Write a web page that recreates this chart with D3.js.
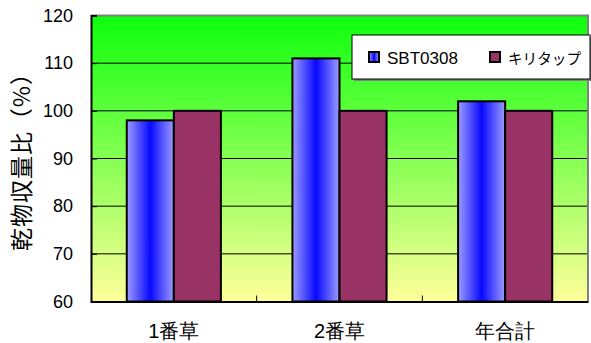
<!DOCTYPE html>
<html>
<head>
<meta charset="utf-8">
<script src="https://cdn.jsdelivr.net/npm/d3@7"></script>
<style>
  html, body { margin: 0; padding: 0; background: #fff; }
  svg { display: block; font-family: "Liberation Sans", Arial, "Noto Sans CJK JP", sans-serif; }
</style>
</head>
<body>
<svg id="chart" width="591" height="343"></svg>
<script>
// Dry matter yield ratio (%) by cutting, SBT0308 versus the standard キリタップ
const categories = ["1番草", "2番草", "年合計"];
const seriesNames = ["SBT0308", "キリタップ"];
const sbt0308 = [98, 111, 102];
const kiritap = [100, 100, 100];
const yTicks = [60, 70, 80, 90, 100, 110, 120];
const yTitle = "乾物収量比（%）";

const svg = d3.select("#chart");
const plot = { left: 91, right: 588, top: 15.5, bottom: 301.5 };

const x = d3.scaleBand().domain(categories).range([plot.left, plot.right]).padding(0);
const xSub = d3.scaleBand().domain(seriesNames).range([0, x.bandwidth()])
  .paddingInner(0).paddingOuter(0.76);
const y = d3.scaleLinear().domain([60, 120]).range([plot.bottom, plot.top]);

const defs = svg.append("defs");
const bg = defs.append("linearGradient").attr("id", "bgGrad")
  .attr("x1", 0).attr("y1", 0).attr("x2", 0).attr("y2", 1);
bg.append("stop").attr("offset", 0).attr("stop-color", "#0cff0c");
bg.append("stop").attr("offset", 1).attr("stop-color", "#ffff9a");

const blue = defs.append("linearGradient").attr("id", "blueGrad")
  .attr("x1", 0).attr("y1", 0).attr("x2", 1).attr("y2", 0);
blue.append("stop").attr("offset", 0).attr("stop-color", "#9c9cff");
blue.append("stop").attr("offset", 0.5).attr("stop-color", "#0808ff");
blue.append("stop").attr("offset", 1).attr("stop-color", "#9c9cff");

// plot background
svg.append("rect")
  .attr("x", plot.left).attr("y", plot.top)
  .attr("width", plot.right - plot.left).attr("height", plot.bottom - plot.top)
  .attr("fill", "url(#bgGrad)");

// horizontal gridlines
svg.append("g").selectAll("line")
  .data(yTicks.filter(t => t > 60 && t < 120))
  .join("line")
  .attr("x1", plot.left).attr("x2", plot.right)
  .attr("y1", d => y(d)).attr("y2", d => y(d))
  .attr("stroke", "#000").attr("stroke-width", 1);

// plot border (top and right)
svg.append("path")
  .attr("d", `M${plot.left},${plot.top}H${plot.right}V${plot.bottom}`)
  .attr("fill", "none").attr("stroke", "#808080").attr("stroke-width", 2);

// bars
const series = [
  { name: seriesNames[0], values: sbt0308, fill: "url(#blueGrad)" },
  { name: seriesNames[1], values: kiritap, fill: "#993366" }
];
const barG = svg.append("g");
series.forEach(s => {
  barG.selectAll(null)
    .data(categories.map((c, i) => ({ c, v: s.values[i] })))
    .join("rect")
    .attr("x", d => x(d.c) + xSub(s.name))
    .attr("width", xSub.bandwidth())
    .attr("y", d => y(d.v))
    .attr("height", d => y(60) - y(d.v))
    .attr("fill", s.fill)
    .attr("stroke", "#000").attr("stroke-width", 2);
});

// y axis
const yAxis = svg.append("g")
  .attr("transform", `translate(${plot.left},0)`)
  .call(d3.axisLeft(y).tickValues(yTicks).tickSize(-6).tickPadding(18));
yAxis.select(".domain").attr("stroke", "#000").attr("stroke-width", 2);
yAxis.selectAll(".tick line").attr("stroke", "#000");
yAxis.selectAll(".tick text").attr("font-size", 18).attr("fill", "#000")
  .attr("font-family", "'Liberation Sans', Arial, sans-serif");

// x axis
const xAxis = svg.append("g")
  .attr("transform", `translate(0,${plot.bottom})`)
  .call(d3.axisBottom(x).tickSize(0).tickPadding(22));
xAxis.select(".domain").attr("stroke", "#000").attr("stroke-width", 2);
xAxis.selectAll(".tick text").attr("font-size", 20).attr("fill", "#000");
// category separator ticks pointing into the plot
svg.append("g").selectAll("line")
  .data(categories.slice(1))
  .join("line")
  .attr("x1", d => x(d)).attr("x2", d => x(d))
  .attr("y1", plot.bottom).attr("y2", plot.bottom - 6)
  .attr("stroke", "#000").attr("stroke-width", 1);

// y axis title: glyphs laid out one by one along the rotated baseline,
// spread evenly so the title spans titleSpan pixels
const titleSpan = 189, titleCenter = 156.5;
const titleG = svg.append("g")
  .attr("transform", `translate(30,${titleCenter}) rotate(-90)`)
  .attr("font-size", 23)
  .attr("font-family", "'Noto Sans CJK JP', sans-serif")
  .attr("fill", "#000");
const glyphs = Array.from(yTitle).map(ch => {
  const t = titleG.append("text").text(ch);
  return { t, w: t.node().getComputedTextLength() };
});
const natural = d3.sum(glyphs, g => g.w);
const gap = (titleSpan - natural) / (glyphs.length - 1);
let pos = -titleSpan / 2;
glyphs.forEach(g => { g.t.attr("x", pos); pos += g.w + gap; });

// legend
const lg = svg.append("g").attr("transform", "translate(352,35)");
lg.append("rect").attr("x", 2).attr("y", 2).attr("width", 238).attr("height", 44)
  .attr("fill", "#808080");
lg.append("rect").attr("x", 0).attr("y", 0).attr("width", 238).attr("height", 44)
  .attr("fill", "#fff").attr("stroke", "#000").attr("stroke-width", 1);
const legendX = [17, 138];
const legendTextWidth = [71, 73];
const legendFontSize = [17, 15];
series.forEach((s, i) => {
  const item = lg.append("g").attr("transform", `translate(${legendX[i]},0)`);
  item.append("rect").attr("x", 0).attr("y", 17).attr("width", 10).attr("height", 10)
    .attr("fill", s.fill).attr("stroke", "#000").attr("stroke-width", 2);
  item.append("text").attr("x", 18).attr("y", 29)
    .attr("font-size", legendFontSize[i]).attr("fill", "#000")
    .attr("textLength", legendTextWidth[i]).attr("lengthAdjust", "spacingAndGlyphs")
    .text(s.name);
});
</script>
</body>
</html>
